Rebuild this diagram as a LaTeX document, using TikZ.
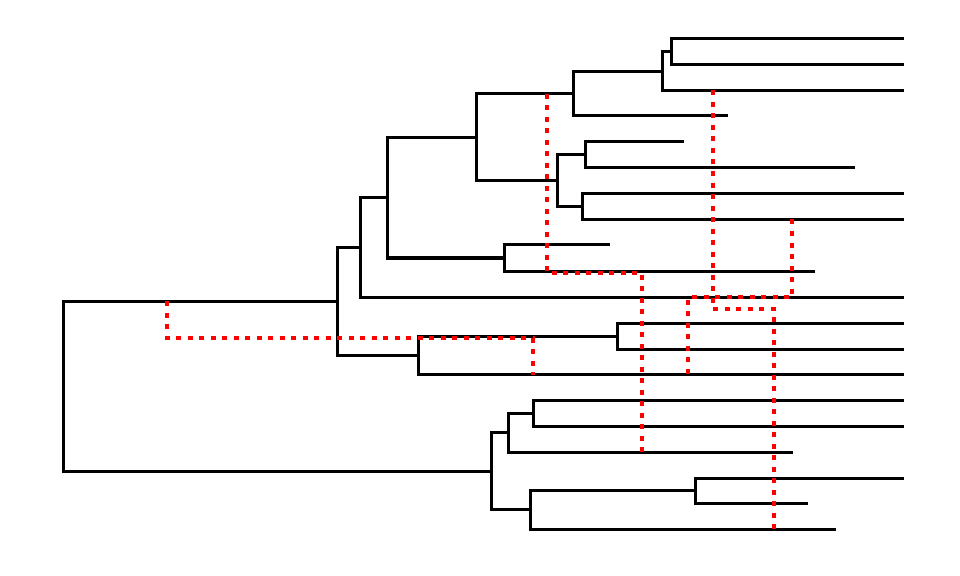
\documentclass[tikz,border=0pt]{standalone}
\begin{document}
\begin{tikzpicture}[x=1bp, y=-1bp,
  branch/.style={line width=3bp, line join=miter},
  hyb/.style={red, line width=3.2bp, dash pattern=on 5bp off 6.5bp}]

\useasboundingbox (0,0) rectangle (960,576);

% leaves
\foreach \i/\x/\y in {1/904/39,2/904/64.5,3/904/90.5,4/728/116,5/684/142,6/855/168,7/904/193.5,
                      8/904/219.5,9/610/245,10/815/271,11/904/297,12/904/323,13/904/349,14/904/374.5,
                      15/904/400,16/904/426,17/793/452,18/904/478,19/808/503.5,20/836/529}
\coordinate (t\i) at (\x,\y);

% inner nodes
\coordinate (A) at (671,51.8);
\coordinate (B) at (662,71.1);
\coordinate (C) at (573,93.6);
\coordinate (D) at (585,155);
\coordinate (E) at (582,206.5);
\coordinate (F) at (557,180.8);
\coordinate (G) at (476,137.2);
\coordinate (H) at (504,258);
\coordinate (I) at (387,197.6);
\coordinate (J) at (360,247.3);
\coordinate (M) at (617,336);
\coordinate (L) at (418,355.2);
\coordinate (K) at (337,301.2);
\coordinate (N) at (533,413);
\coordinate (O) at (508,432.5);
\coordinate (P) at (695,490.8);
\coordinate (Q) at (530,509.9);
\coordinate (R) at (491,471.2);
\coordinate (root) at (63,386.2);

\foreach \p/\c in {A/t1,A/t2,B/A,B/t3,C/B,C/t4,D/t5,D/t6,E/t7,E/t8,F/D,F/E,G/C,G/F,
                   H/t9,H/t10,I/G,I/H,J/I,J/t11,M/t12,M/t13,L/M,L/t14,K/J,K/L,
                   N/t15,N/t16,O/N,O/t17,P/t18,P/t19,Q/P,Q/t20,R/O,R/Q,root/K,root/R}
\draw[branch] (\p) |- (\c);

% reticulations
\coordinate (h1a) at (167,301.2);
\coordinate (h1b) at (533,374.5);
\coordinate (h2a) at (547,93.6);
\coordinate (h2b) at (642,452);
\coordinate (h3a) at (713,90.5);
\coordinate (h3b) at (774,529);
\coordinate (h4a) at (792,219.5);
\coordinate (h4b) at (688,374.5);

\draw[hyb] (h1a) -- (167,338) -| (h1b);
\draw[hyb] (h2a) -- (547,273) -| (h2b);
\draw[hyb] (h3a) -- (713,309) -| (h3b);
\draw[hyb] (h4a) -- (792,297) -| (h4b);
\end{tikzpicture}
\end{document}
